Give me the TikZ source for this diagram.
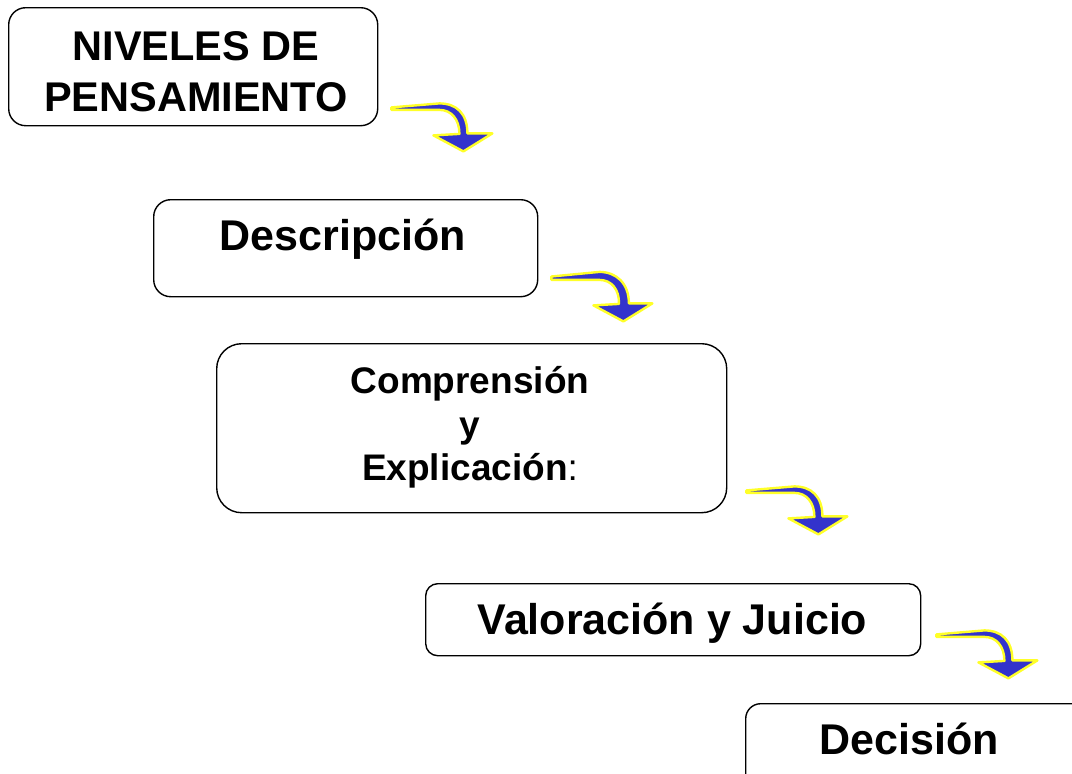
\documentclass[tikz,border=0pt]{standalone}
\usepackage{fontspec}
\setmainfont{Liberation Sans}
\usetikzlibrary{calc}
\definecolor{arrblue}{RGB}{51,51,204}
\definecolor{arryellow}{RGB}{255,255,40}
\tikzset{
  box/.style={draw=black, line width=1.4pt, anchor=north west, inner sep=0pt},
  lbl/.style={anchor=base, inner sep=0pt, font=\bfseries\fontsize{43}{48}\selectfont},
  lblbig/.style={anchor=base, inner sep=0pt, font=\bfseries\fontsize{41.5}{48}\selectfont},
  lblsmall/.style={anchor=base, inner sep=0pt, font=\bfseries\fontsize{37}{43}\selectfont},
  arrowfill/.style={fill=arrblue, draw=arryellow, line width=2.4pt, line join=round},
  pics/curvearrow/.style={code={
    \path[arrowfill] (-72,{-44-#1*0.6}) -- (-24,{-48-#1}) .. controls (-7,{-48-#1}) and ({4+#1},-38) .. ({4+#1},-18)
      -- (29,-18) -- (0,0) -- (-30,-16) -- ({-4-#1*0.3},-17.5) .. controls (-4,-32) and (-12,-41.5) .. (-24,-41.5) -- (-72,-41.5) -- cycle;
  }}
}
\begin{document}
\begin{tikzpicture}[x=1pt,y=-1pt]
\useasboundingbox (0,0) rectangle (1072,774);
% boxes
\node[box, rounded corners=17pt, minimum width=369pt, minimum height=118pt] (b1) at (8,7) {};
\node[box, rounded corners=17pt, minimum width=384pt, minimum height=97pt] (b2) at (153,199) {};
\node[box, rounded corners=25pt, minimum width=510pt, minimum height=169pt] (b3) at (216,343) {};
\node[box, rounded corners=12pt, minimum width=495pt, minimum height=72pt] (b4) at (425,583) {};
\node[box, rounded corners=15pt, minimum width=360pt, minimum height=100pt] (b5) at (745,703) {};
% texts
\node[lblbig] (t1a) at (196,60) {NIVELES DE};
\node[lblbig] (t1b) at (196,111) {PENSAMIENTO};
\node[lbl] (t2) at (343,250) {Descripción};
\node[lblsmall] (t3a) at (470,393) {Comprensión};
\node[lblsmall] (t3b) at (470,437) {y};
\node[lblsmall] (t3c) at (470,480) {Explicación{\mdseries :}};
\node[lbl] (t4) at (672.5,634) {Valoración y Juicio};
\node[lbl] (t5) at (909,754) {Decisión};
% arrows
\coordinate (a1) at ($(b1.south east)+(85,25)$);
\coordinate (a2) at ($(b2.south east)+(85,24)$);
\coordinate (a3) at ($(b3.south east)+(91,21)$);
\coordinate (a4) at ($(b4.south east)+(87,22)$);
\pic at (a1) {curvearrow=0};
\pic at (a2) {curvearrow=1.5};
\pic at (a3) {curvearrow=0};
\pic at (a4) {curvearrow=0};
\end{tikzpicture}
\end{document}
